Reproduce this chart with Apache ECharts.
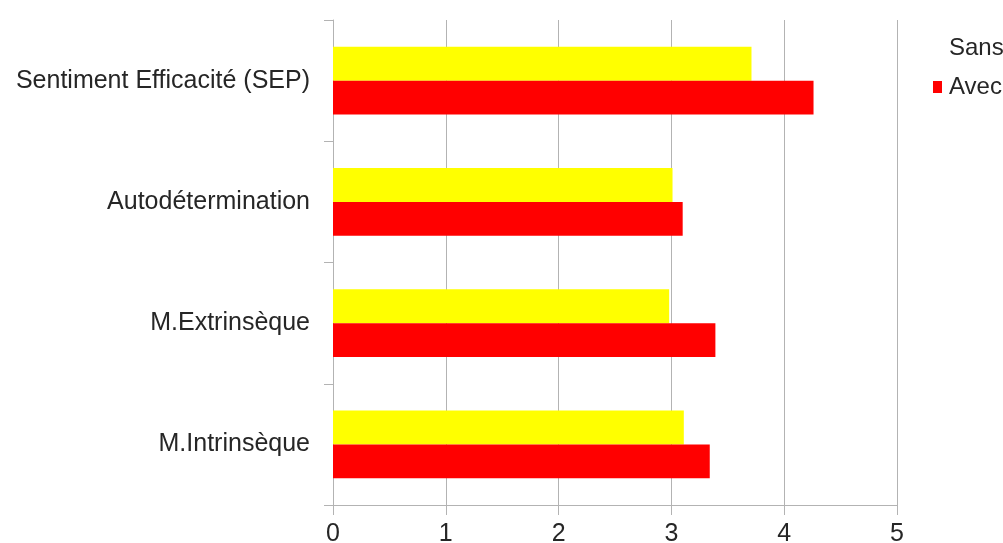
<!DOCTYPE html>
<html>
<head>
<meta charset="utf-8">
<script src="https://cdn.jsdelivr.net/npm/echarts@6/dist/echarts.min.js"></script>
<style>
  html, body { margin: 0; padding: 0; background: #ffffff; }
  #chart { width: 1003px; height: 543px; }
</style>
</head>
<body>
<div id="chart"></div>
<script>
// Categories listed bottom to top along the vertical axis
const categories = ['M.Intrinsèque', 'M.Extrinsèque', 'Autodétermination', 'Sentiment Efficacité (SEP)'];
const seriesNames = ['Sans', 'Avec'];
const sansValues = [3.11, 2.98, 3.01, 3.71];
const avecValues = [3.34, 3.39, 3.10, 4.26];
const xTicks = [0, 1, 2, 3, 4, 5];

const gridColor = '#b3b3b3';
const textColor = '#262626';
const fontFamily = '"Liberation Sans", Arial, sans-serif';

const chart = echarts.init(document.getElementById('chart'), null, { renderer: 'canvas' });

chart.setOption({
  animation: false,
  backgroundColor: '#ffffff',
  textStyle: { fontFamily: fontFamily },
  grid: { left: 333, right: 106, top: 20, bottom: 38, containLabel: false, outerBoundsMode: 'none' },
  legend: {
    orient: 'vertical',
    left: 928,
    top: 31,
    itemWidth: 9,
    itemHeight: 12,
    itemGap: 15,
    icon: 'rect',
    textStyle: { fontSize: 24, color: textColor, fontFamily: fontFamily, padding: [0, 0, 0, 2] },
    data: [
      { name: seriesNames[0], itemStyle: { opacity: 0 } },
      { name: seriesNames[1] }
    ]
  },
  xAxis: {
    type: 'value',
    min: xTicks[0],
    max: xTicks[xTicks.length - 1],
    interval: 1,
    axisLine: { show: true, lineStyle: { color: gridColor, width: 1 } },
    axisTick: { show: true, length: 10, lineStyle: { color: gridColor } },
    axisLabel: { color: textColor, fontSize: 25, margin: 17, fontFamily: fontFamily },
    splitLine: { show: true, lineStyle: { color: gridColor, width: 1 } }
  },
  yAxis: {
    type: 'category',
    data: categories,
    axisLine: { show: true, lineStyle: { color: gridColor, width: 1 } },
    axisTick: { show: true, length: 9, lineStyle: { color: gridColor } },
    axisLabel: { color: textColor, fontSize: 25, margin: 23, fontFamily: fontFamily }
  },
  series: [
    {
      name: seriesNames[0],
      type: 'bar',
      data: sansValues,
      itemStyle: { color: '#ffff00' },
      barGap: '0%',
      barCategoryGap: '44%'
    },
    {
      name: seriesNames[1],
      type: 'bar',
      data: avecValues,
      itemStyle: { color: '#ff0000' },
      barGap: '0%',
      barCategoryGap: '44%'
    }
  ]
});
</script>
</body>
</html>
